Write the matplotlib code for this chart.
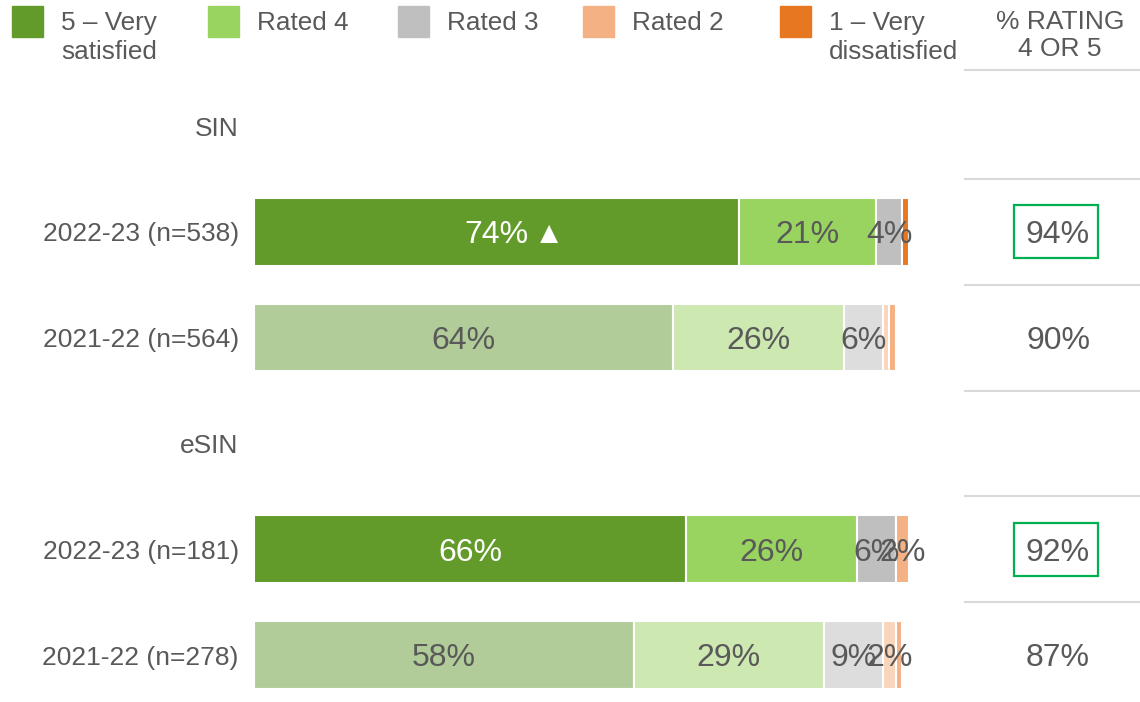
import matplotlib
matplotlib.use("Agg")
import matplotlib.pyplot as plt
from matplotlib.patches import Rectangle
from matplotlib.transforms import blended_transform_factory

plt.rcParams['font.family'] = ['Liberation Sans', 'DejaVu Sans']

# ---- data ----
row_labels = ["SIN", "2022-23 (n=538)", "2021-22 (n=564)", "eSIN", "2022-23 (n=181)", "2021-22 (n=278)"]
bar_rows = [1, 2, 4, 5]
rated5 = [74, 64, 66, 58]
rated4 = [21, 26, 26, 29]
rated3 = [4, 6, 6, 9]
rated2 = [0, 1, 2, 2]
rated1 = [1, 1, 0, 1]
pct45 = ["94%", "90%", "92%", "87%"]
highlight = [True, False, True, False]
sig_up = [True, False, False, False]
legend_labels = ["5 – Very\nsatisfied", "Rated 4", "Rated 3", "Rated 2", "1 – Very\ndissatisfied"]

cur_colors = ["#629b2a", "#98d45f", "#bfbfbf", "#f4b183", "#e87722"]
old_colors = ["#b1cc99", "#cde8b0", "#dddddd", "#f9d5bb", "#f4b183"]
is_current = [True, False, True, False]

TXT = "#595959"
W, H = 1140, 702
fig = plt.figure(figsize=(W / 100, H / 100), dpi=100)

# axes: x 254..909 px, y rows centred at 126 + 105.8*i
ax_top, ax_bot = 73, 702
ax = fig.add_axes([254 / W, 1 - ax_bot / H, 655 / W, (ax_bot - ax_top) / H])
ax.set_xlim(0, 100)
y0 = (ax_top - 126) / 105.8
y1 = (ax_bot - 126) / 105.8
ax.set_ylim(y1, y0)
for s in ax.spines.values():
    s.set_visible(False)
ax.set_xticks([])
ax.set_yticks(range(len(row_labels)))
ax.set_yticklabels(row_labels, fontsize=19, color=TXT)
ax.tick_params(axis='y', length=0, pad=11)

series = [rated5, rated4, rated3, rated2, rated1]
for j, r in enumerate(bar_rows):
    left = 0
    cols = cur_colors if is_current[j] else old_colors
    for k, ser in enumerate(series):
        v = ser[j]
        if v > 0:
            ax.barh(r, v, left=left, height=0.64, color=cols[k], edgecolor="white", linewidth=1.5)
            if v >= 2:
                c = "white" if (k == 0 and is_current[j]) else TXT
                ax.text(left + v / 2, r, f"{v}%", ha="center", va="center_baseline", fontsize=23, color=c)
                if k == 0 and sig_up[j]:
                    ax.annotate("▲", xy=(left + v / 2, r), xytext=(38, 0), textcoords="offset points",
                                ha="center", va="center_baseline", fontsize=22, color="white")
        left += v

# right column
tr = blended_transform_factory(fig.transFigure, ax.transData)
xc = 1058 / W
for yy in [-0.53, 0.5, 1.5, 2.5, 3.5, 4.5]:
    ax.plot([965 / W, 1.0], [yy, yy], transform=tr, color="#d9d9d9", lw=1.5, clip_on=False)
for j, r in enumerate(bar_rows):
    ax.text(xc, r, pct45[j], transform=tr, ha="center", va="center_baseline", fontsize=23, color=TXT)
    if highlight[j]:
        ax.add_patch(Rectangle((1014 / W, r - 0.25), 84 / W, 0.5, transform=tr, fill=False,
                               edgecolor="#00b050", lw=1.6, clip_on=False))

fig.text(1060 / W, 1 - 10 / H, "% RATING\n4 OR 5", ha="center", va="top", fontsize=19,
         color=TXT, linespacing=1.15)

# legend
sq_x = [12, 208, 398, 583, 780]
for i, lab in enumerate(legend_labels):
    fig.patches.append(Rectangle((sq_x[i] / W, 1 - 37 / H), 31 / W, 31 / H, transform=fig.transFigure,
                                 color=cur_colors[i]))
    fig.text((sq_x[i] + 49) / W, 1 - 11 / H, lab, ha="left", va="top", fontsize=18.8, color=TXT,
             linespacing=1.25)

fig.savefig("out.png", dpi=100)
